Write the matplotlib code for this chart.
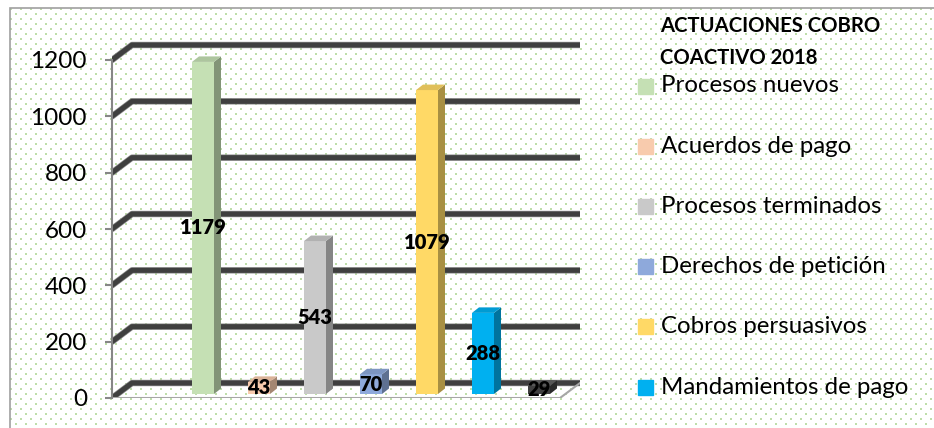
import numpy as np
import matplotlib
matplotlib.use("Agg")
import matplotlib.pyplot as plt
import matplotlib.patheffects as pe
from matplotlib.patches import Rectangle

# Data
categories = ["Procesos nuevos", "Acuerdos de pago", "Procesos terminados",
              "Derechos de petición", "Cobros persuasivos", "Mandamientos de pago"]
values = [1179, 43, 543, 70, 1079, 288, 29]  # 7th bar has no legend entry (cut off)
colors = ["#C5E0B4", "#F8CBAD", "#C9C9C9", "#8EA9DB", "#FFD966", "#00B0F0", "#404040"]
legend_title = "ACTUACIONES COBRO\nCOACTIVO 2018"
yticks = [0, 200, 400, 600, 800, 1000, 1200]

W, H = 934, 428
plt.rcParams['font.family'] = ['Lato', 'DejaVu Sans']


def fx(px):
    return px / W


def fy(py):
    return 1 - py / H


def shade(c, f):
    r, g, b = matplotlib.colors.to_rgb(c)
    return (min(r * f, 1), min(g * f, 1), min(b * f, 1))


fig = plt.figure(figsize=(W / 100, H / 100), dpi=100)
fig.patch.set_facecolor("white")

# dotted background pattern inside the border
ph, pw = H - 8, W - 10
pat = np.ones((ph, pw, 3))
dot = np.array([190, 222, 170]) / 255
for r in range(0, ph, 5):
    off = 0 if (r // 5) % 2 == 0 else 5
    for c in range(off, pw, 10):
        pat[r:r + 2, c:c + 2] = dot
fig.figimage(pat, xo=10, yo=0, zorder=-10)
fig.patches.append(Rectangle((fx(10), fy(H + 10)), 1.0, (H + 2) / H, transform=fig.transFigure,
                             fill=False, edgecolor="#a0a0a0", linewidth=1.2, zorder=-5))

# Plot area (pixel-based geometry)
px_x = 56.0                 # px per category
px_v = 338.0 / 1200         # px per value unit
ax = fig.add_axes([fx(112), fy(398), 468 / W, 368 / H])
ax.patch.set_alpha(0)
x0, x1 = -(203 - 112) / px_x, (580 - 203) / px_x
ax.set_xlim(x0, x1)
ax.set_ylim(0, 368 / px_v)

gdx, gdy = 20 / px_x, 15 / px_v       # back-wall offset
base = 4 / px_v                        # bars sit slightly behind the front edge
bw = 22 / px_x
ddx, ddy = 7 / px_x, 5.5 / px_v        # bar depth

# gridlines on back wall
for v in yticks:
    ax.plot([x0, x0 + gdx, x1], [v, v + gdy, v + gdy], color="#3f3f3f", lw=3.6,
            solid_capstyle="round", solid_joinstyle="round", zorder=1,
            path_effects=[pe.withStroke(linewidth=4.6, foreground="#8c8c8c")])

# floor edge
ax.plot([x0, x1 - gdx, x1], [0, 0, gdy], color="#a6a6a6", lw=1.5, zorder=1)

# bars with fake depth
xs = np.arange(len(values))
ax.bar(xs, values, bottom=base, width=bw, color=colors, zorder=3)
for x, v, c in zip(xs, values, colors):
    r = x + bw / 2
    l = x - bw / 2
    top = base + v
    ax.fill([r, r + ddx, r + ddx, r], [base, base + ddy, top + ddy, top],
            color=shade(c, 0.66), zorder=3, lw=0)
    ax.fill([l, r, r + ddx, l + ddx], [top, top, top + ddy, top + ddy],
            color=shade(c, 1.35 if c == "#404040" else 0.88), zorder=3, lw=0)
    ax.text(x, base + v / 2, str(v), ha="center", va="center", fontsize=14.5,
            fontweight="heavy", color="black", zorder=5)

# axes styling
for s in ["top", "right", "bottom"]:
    ax.spines[s].set_visible(False)
ax.spines["left"].set_color("#868686")
ax.spines["left"].set_linewidth(1.5)
ax.spines["left"].set_bounds(0, 1200)
ax.set_xticks([])
ax.set_yticks(yticks)
ax.tick_params(axis="y", length=5, width=1.5, color="#868686", pad=13, labelsize=17.5)

# legend drawn by hand
fig.text(fx(660), fy(42), legend_title, ha="left", va="center", fontsize=14.6,
         fontweight="bold", linespacing=1.7)
for i, (name, c) in enumerate(zip(categories, colors)):
    yc = 86 + 60.2 * i
    fig.patches.append(Rectangle((fx(638), fy(yc + 7.5)), 15 / W, 15 / H,
                                 transform=fig.transFigure, color=c))
    fig.text(fx(661), fy(yc), name, ha="left", va="center", fontsize=17.3)

fig.savefig("out.png", dpi=100)
